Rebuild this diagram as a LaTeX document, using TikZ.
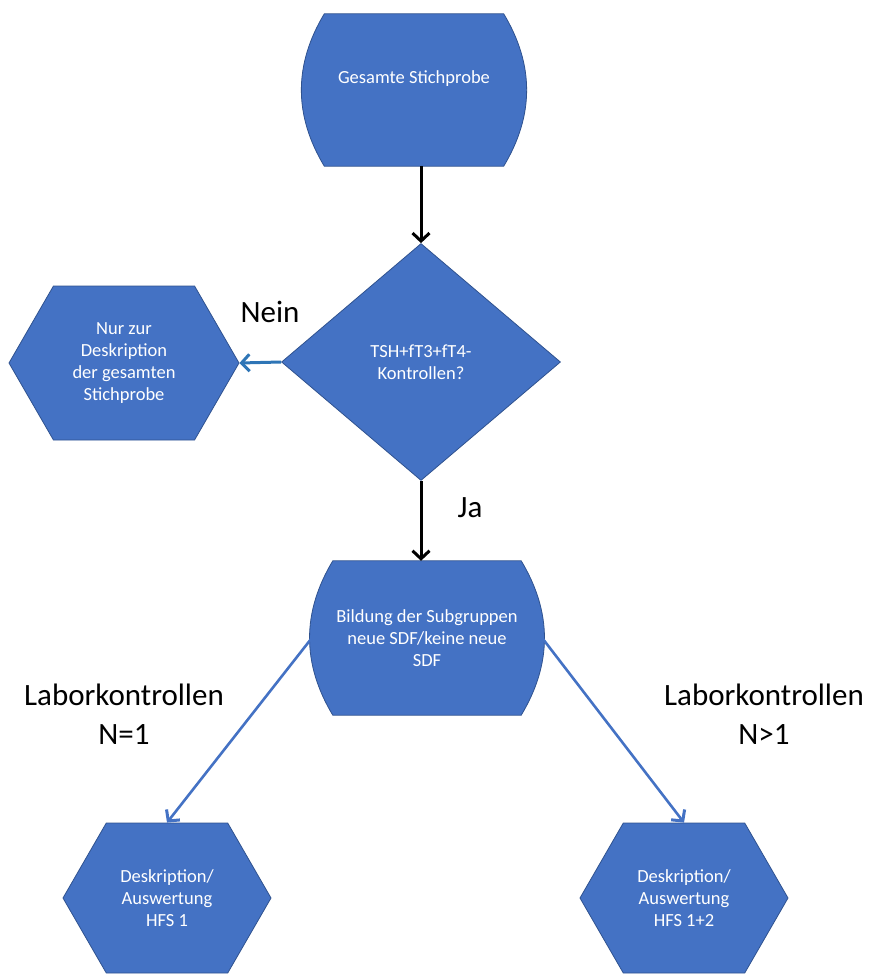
\documentclass[tikz,border=0pt]{standalone}
\usepackage{fontspec}
\setmainfont{Carlito}
\usepackage{xcolor}
\usepackage{tikz}
\usetikzlibrary{shapes.geometric, shapes.symbols, arrows.meta, positioning, calc, backgrounds}

\definecolor{boxBlue}{HTML}{4472C4}
\definecolor{boxEdge}{HTML}{2F528F}
\definecolor{noBlue}{HTML}{2E75B6}

% outline with bulging sides, drawn behind a named node
\newcommand{\drawStore}[1]{%
    \begin{pgfonlayer}{background}
        \draw[draw=boxEdge, line width=0.8pt, fill=boxBlue]
            ($(#1.north west)+(21pt,0pt)$) -- ($(#1.north east)+(-21pt,0pt)$)
            to[bend left=31] ($(#1.south east)+(-21pt,0pt)$) -- ($(#1.south west)+(21pt,0pt)$)
            to[bend left=31] ($(#1.north west)+(21pt,0pt)$) -- cycle;
    \end{pgfonlayer}}

\begin{document}
\begin{tikzpicture}[x=1pt, y=-1pt, >={Straight Barb[length=8pt, width=17pt, line width=3pt]}]
        \tikzstyle{box} = [draw=boxEdge, line width=0.8pt, fill=boxBlue, text=white, align=center, inner sep=0pt, font=\fontsize{18.5}{22}\selectfont]
        \tikzstyle{storeBox} = [rectangle, text=white, align=center, inner sep=0pt, font=\fontsize{18.5}{22}\selectfont, minimum width=221pt, minimum height=152pt]
        \tikzstyle{decisionBox} = [box, diamond, minimum width=279pt, minimum height=237pt]
        \tikzstyle{hexBox} = [box, signal, signal to=west and east, signal pointer angle=120, minimum width=208pt, minimum height=150pt]
        \tikzstyle{tagLabel} = [align=center, font=\fontsize{31}{39}\selectfont]
        \tikzstyle{flow} = [->, line width=3pt]

        \useasboundingbox (0,0) rectangle (872,974);

        \node[storeBox] (sample) at (414, 90) {Gesamte Stichprobe\\[4pt]\mbox{}};
        \drawStore{sample}
        \node[decisionBox] (check) at (421, 362) {TSH+fT3+fT4-\\Kontrollen?};
        \node[hexBox, minimum width=230pt, minimum height=154pt] (descAll) at (124, 363) {Nur zur\\Deskription\\der gesamten\\Stichprobe};
        \node[storeBox, minimum width=230pt, minimum height=154pt] (subgroups) at (427, 638) {Bildung der Subgruppen\\neue SDF/keine neue\\SDF};
        \drawStore{subgroups}
        \node[hexBox] (hfsOne) at (167, 898) {Deskription/\\Auswertung\\HFS 1};
        \node[hexBox] (hfsTwo) at (684, 898) {Deskription/\\Auswertung\\HFS 1+2};

        \node[tagLabel] (nein) at (270, 312) {Nein};
        \node[tagLabel] (ja) at (470, 508) {Ja};
        \node[tagLabel] (labOne) at (124, 714) {Laborkontrollen\\N=1};
        \node[tagLabel] (labMany) at (764, 714) {Laborkontrollen\\N>1};

        \draw[flow] (check.north |- sample.south) -- (check.north);
        \draw[flow] (check.south) -- (check.south |- subgroups.north);
        \draw[flow, draw=noBlue] (check.west) -- (descAll.east);

        \draw[flow, draw=boxBlue, line width=2.6pt] (subgroups.west) -- (hfsOne.north);
        \draw[flow, draw=boxBlue, line width=2.6pt] (subgroups.east) -- (hfsTwo.north);
    \end{tikzpicture}
\end{document}
